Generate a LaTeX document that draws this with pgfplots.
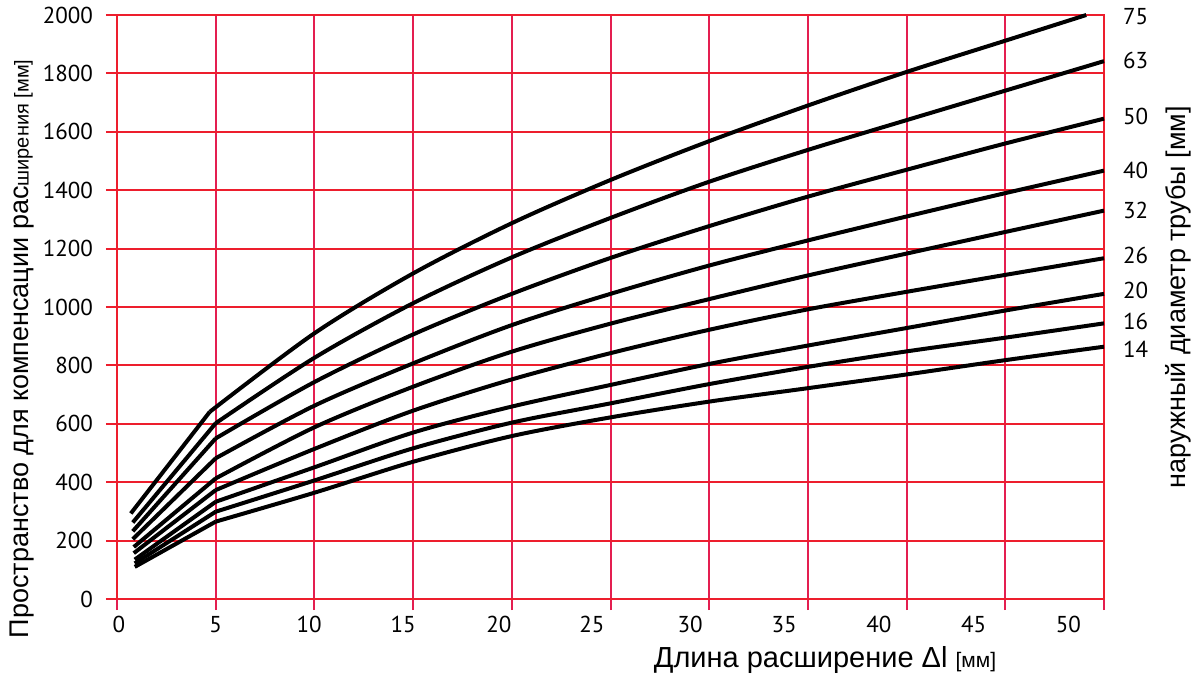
\documentclass[border=0pt]{standalone}
\usepackage{fontspec}
\setmainfont{Liberation Sans}
\newfontfamily\tickfont{PT Sans}
\usepackage{pgfplots}
\pgfplotsset{compat=1.18}
\definecolor{hgrid}{RGB}{237,30,45}
\definecolor{vgrid}{RGB}{228,30,80}

% curves: straight part up to the kink near 5 mm, smooth part after it
\pgfplotstableread{
x y
0.7 293
4.7 641
}\dSa
\pgfplotstableread{
x y
4.7 641
10 910
15 1115
20 1287
25 1435
30 1568
35 1690
40 1805
45 1912
49.1 2000
}\dSb
\pgfplotstableread{
x y
0.8 262
5 602
}\dTa
\pgfplotstableread{
x y
5 602
10 826
15 1013
20 1170
25 1305
30 1429
35 1538
40 1640
45 1741
50 1842
}\dTb
\pgfplotstableread{
x y
0.8 232
5 550
}\dFa
\pgfplotstableread{
x y
5 550
10 743
15 906
20 1045
25 1168
30 1277
35 1378
40 1470
45 1560
50 1645
}\dFb
\pgfplotstableread{
x y
0.8 205
5 482
}\dVa
\pgfplotstableread{
x y
5 482
10 662
15 807
20 938
25 1045
30 1142
35 1228
40 1310
45 1390
50 1467
}\dVb
\pgfplotstableread{
x y
0.85 178
5 413
}\dWa
\pgfplotstableread{
x y
5 413
10 588
15 727
20 847
25 943
30 1027
35 1108
40 1183
45 1257
50 1330
}\dWb
\pgfplotstableread{
x y
0.85 157
5 373
}\dXa
\pgfplotstableread{
x y
5 373
10 514
15 645
20 752
25 842
30 922
35 992
40 1052
45 1110
50 1167
}\dXb
\pgfplotstableread{
x y
0.9 135
5 333
}\dYa
\pgfplotstableread{
x y
5 333
10 451
15 570
20 659
25 733
30 805
35 868
40 928
45 988
50 1045
}\dYb
\pgfplotstableread{
x y
0.9 122
5 299
}\dZa
\pgfplotstableread{
x y
5 299
10 406
15 516
20 604
25 670
30 736
35 795
40 848
45 895
50 944
}\dZb
\pgfplotstableread{
x y
0.9 110
5 265
}\dQa
\pgfplotstableread{
x y
5 265
10 364
15 470
20 558
25 622
30 676
35 722
40 769
45 818
50 864
}\dQb

\begin{document}
\begin{tikzpicture}
\path[use as bounding box] (-58.5pt,-41pt) rectangle (539pt,299.5pt);
\begin{axis}[
    at={(0,0)}, anchor=south west,
    scale only axis,
    width=493.5pt, height=292pt,
    xmin=0, xmax=50, ymin=0, ymax=2000,
    xtick={0,5,...,50}, ytick={0,200,...,2000},
    xticklabels={},
    grid=major,
    x grid style={vgrid, line width=1pt},
    y grid style={hgrid, line width=1pt},
    axis line style={hgrid, line width=0.8pt},
    xtick style={vgrid, line width=1pt},
    ytick style={hgrid, line width=1pt},
    tick align=outside, major tick length=5.5pt,
    xtick pos=bottom, ytick pos=left,
    /pgf/number format/assume math mode=true,
    /pgf/number format/set thousands separator={},
    yticklabel style={font=\tickfont\fontsize{11.5}{13}\selectfont, xshift=-3pt},
    clip=false,
    curve/.style={black, line width=2pt, line join=round, line cap=butt},
]
\addplot[curve] table {\dSa};
\addplot[curve, smooth] table {\dSb};
\addplot[curve] table {\dTa};
\addplot[curve, smooth] table {\dTb};
\addplot[curve] table {\dFa};
\addplot[curve, smooth] table {\dFb};
\addplot[curve] table {\dVa};
\addplot[curve, smooth] table {\dVb};
\addplot[curve] table {\dWa};
\addplot[curve, smooth] table {\dWb};
\addplot[curve] table {\dXa};
\addplot[curve, smooth] table {\dXb};
\addplot[curve] table {\dYa};
\addplot[curve, smooth] table {\dYb};
\addplot[curve] table {\dZa};
\addplot[curve, smooth] table {\dZb};
\addplot[curve] table {\dQa};
\addplot[curve, smooth] table {\dQb};

\begin{scope}[every node/.style={font=\tickfont\fontsize{11.5}{13}\selectfont}]
\node at (axis cs:51.6,1994) {75};
\node at (axis cs:51.6,1843) {63};
\node at (axis cs:51.6,1652) {50};
\node at (axis cs:51.6,1467) {40};
\node at (axis cs:51.6,1332) {32};
\node at (axis cs:51.6,1175) {26};
\node at (axis cs:51.6,1058) {20};
\node at (axis cs:51.6,950) {16};
\node at (axis cs:51.6,855) {14};
\end{scope}

\node[rotate=90, anchor=west] at (axis cs:-4.81,-158)
  {\fontsize{13.5}{16}\selectfont Пространство для компенсации рас{\fontsize{10}{12}\selectfont ширения [мм]}};
\node[rotate=90] at (axis cs:53.75,1034)
  {\fontsize{13.5}{16}\selectfont наружный диаметр трубы [мм]};
\node at (axis cs:35.87,-209)
  {\fontsize{14.5}{17}\selectfont Длина расширение Δl {\fontsize{10.5}{12}\selectfont [мм]}};
\end{axis}

% x tick labels as placed in the original (they drift left of the grid)
\begin{axis}[
    at={(0,0)}, anchor=south west,
    scale only axis,
    width=493.5pt, height=292pt,
    xmin=0, xmax=50, ymin=0, ymax=2000,
    hide y axis,
    axis x line*=bottom,
    x axis line style={draw=none},
    xtick={0.1,5,9.73,14.5,19.35,24.06,29.03,33.8,38.6,43.4,48.2},
    xticklabels={0,5,10,15,20,25,30,35,40,45,50},
    major tick length=0pt,
    xticklabel style={font=\tickfont\fontsize{11.5}{13}\selectfont, yshift=-5pt},
]
\addplot[draw=none] coordinates {(0,0)};
\end{axis}
\end{tikzpicture}
\end{document}
